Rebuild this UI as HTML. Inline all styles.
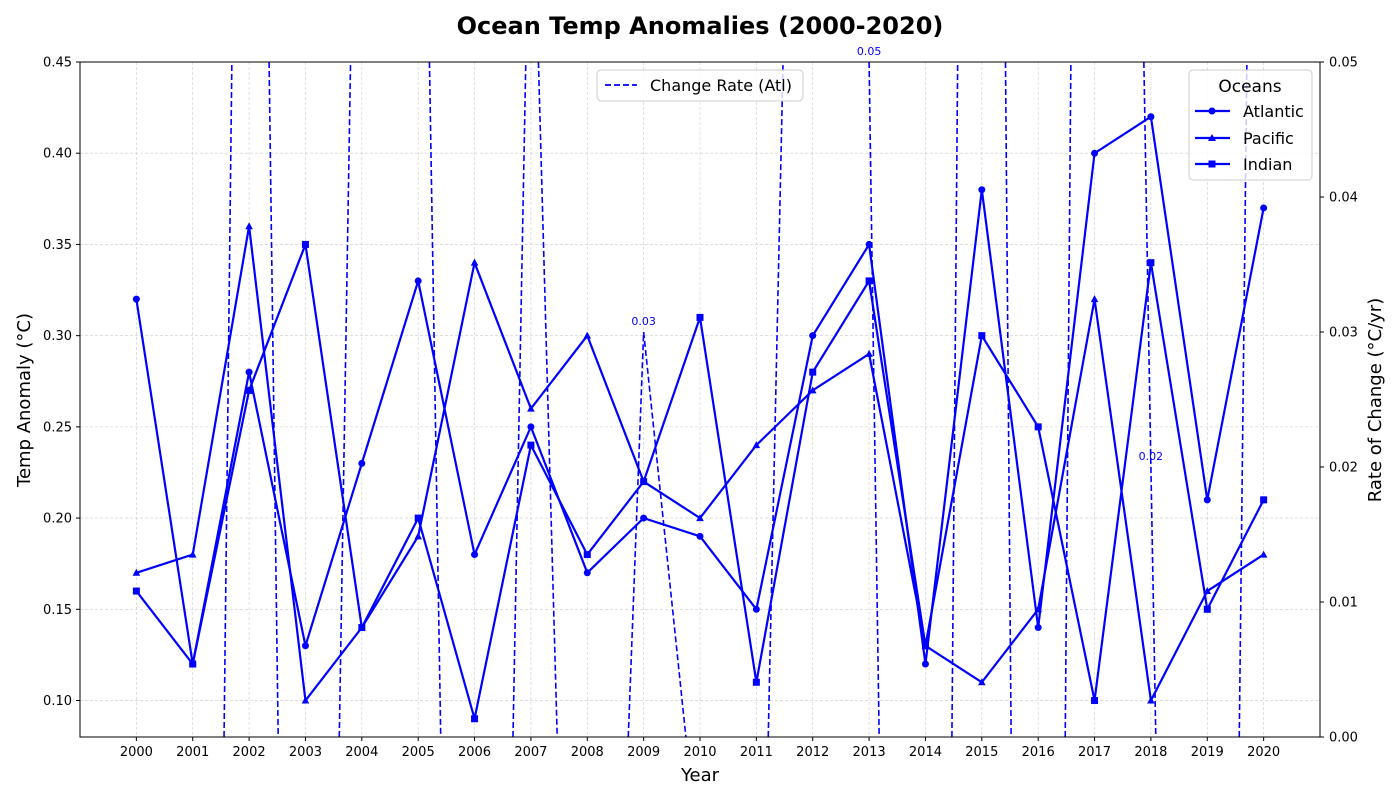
<!DOCTYPE html>
<html><head><meta charset="utf-8"><style>
html,body{margin:0;padding:0;background:#fff;width:1400px;height:800px;overflow:hidden;}
svg{display:block;}
svg text{font-family:"DejaVu Sans","Liberation Sans",sans-serif;}
</style></head><body>
<svg id="chart" width="1400" height="800" xmlns="http://www.w3.org/2000/svg">
<defs><clipPath id="plotclip"><rect x="80" y="62" width="1240" height="675"/></clipPath></defs>
<text x="700" y="34" text-anchor="middle" font-size="24" font-weight="bold">Ocean Temp Anomalies (2000-2020)</text>
<g id="grid"></g>
<g id="axes"></g>
<g id="series" clip-path="url(#plotclip)"></g>
<g id="annots"></g>
<rect x="80" y="62" width="1240" height="675" fill="none" stroke="#000" stroke-width="1"/>
<text x="700" y="781" text-anchor="middle" font-size="18">Year</text>
<text transform="translate(30,400) rotate(-90)" text-anchor="middle" font-size="18">Temp Anomaly (°C)</text>
<text transform="translate(1381,400) rotate(-90)" text-anchor="middle" font-size="18">Rate of Change (°C/yr)</text>
<g>
<rect x="597" y="70" width="206" height="31" rx="4" fill="#fff" fill-opacity="0.8" stroke="#ccc"/>
<line x1="605" y1="85" x2="637" y2="85" stroke="#0000ff" stroke-width="1.8" stroke-dasharray="6,3"/>
<text x="650" y="91" font-size="16">Change Rate (Atl)</text>
</g>
<g>
<rect x="1189" y="70" width="123" height="110" rx="4" fill="#fff" fill-opacity="0.8" stroke="#ccc"/>
<text x="1250" y="92" text-anchor="middle" font-size="17">Oceans</text>
<line x1="1195" y1="111" x2="1230" y2="111" stroke="#0000ff" stroke-width="2.2"/><circle cx="1212" cy="111" r="3.5" fill="#0000ff"/>
<text x="1243" y="117" font-size="16">Atlantic</text>
<line x1="1195" y1="138" x2="1230" y2="138" stroke="#0000ff" stroke-width="2.2"/><polygon points="1212,134 1216,141 1208,141" fill="#0000ff"/>
<text x="1243" y="144" font-size="16">Pacific</text>
<line x1="1195" y1="164" x2="1230" y2="164" stroke="#0000ff" stroke-width="2.2"/><rect x="1208.5" y="160.5" width="7" height="7" fill="#0000ff"/>
<text x="1243" y="170" font-size="16">Indian</text>
</g>
</svg>
<script>
const years=[2000,2001,2002,2003,2004,2005,2006,2007,2008,2009,2010,2011,2012,2013,2014,2015,2016,2017,2018,2019,2020];
const atlantic=[0.32,0.12,0.28,0.13,0.23,0.33,0.18,0.25,0.17,0.20,0.19,0.15,0.30,0.35,0.12,0.38,0.14,0.40,0.42,0.21,0.37];
const pacific=[0.17,0.18,0.36,0.10,0.14,0.19,0.34,0.26,0.30,0.22,0.20,0.24,0.27,0.29,0.13,0.11,0.15,0.32,0.10,0.16,0.18];
const indian=[0.16,0.12,0.27,0.35,0.14,0.20,0.09,0.24,0.18,0.22,0.31,0.11,0.28,0.33,0.13,0.30,0.25,0.10,0.34,0.15,0.21];
const yTicks=[0.10,0.15,0.20,0.25,0.30,0.35,0.40,0.45];
const y2Ticks=[0,0.01,0.02,0.03,0.04,0.05];
const NS="http://www.w3.org/2000/svg";
const X=v=>80+(v-1999)*1240/22;
const Y=v=>737-(v-0.08)*675/0.37;
const Y2=v=>737-v*675/0.05;
function mk(t,a,p){const e=document.createElementNS(NS,t);for(const k in a)e.setAttribute(k,a[k]);(p||document.getElementById('chart')).appendChild(e);return e;}
const grid=document.getElementById('grid'),axes=document.getElementById('axes'),ser=document.getElementById('series'),ann=document.getElementById('annots');
years.forEach(y=>{
 const g=mk('line',{x1:X(y),x2:X(y),y1:62,y2:737,stroke:'#ccc','stroke-width':0.6,'stroke-dasharray':'3,2'},grid);
 
 
 mk('line',{x1:X(y),x2:X(y),y1:737,y2:741,stroke:'#000'},axes);
 const t=mk('text',{x:X(y),y:756,'text-anchor':'middle','font-size':13},axes);t.textContent=y;
 
 
});
yTicks.forEach(v=>{
 const g=mk('line',{x1:80,x2:1320,y1:Y(v),y2:Y(v),stroke:'#ccc','stroke-width':0.6,'stroke-dasharray':'3,2'},grid);
 
 
 mk('line',{x1:76,x2:80,y1:Y(v),y2:Y(v),stroke:'#000'},axes);
 const t=mk('text',{x:72,y:Y(v)+4.5,'text-anchor':'end','font-size':13},axes);t.textContent=v.toFixed(2);
 
 
});
y2Ticks.forEach(v=>{
 mk('line',{x1:1320,x2:1324,y1:Y2(v),y2:Y2(v),stroke:'#000'},axes);
 const t=mk('text',{x:1329,y:Y2(v)+4.5,'font-size':13},axes);t.textContent=v.toFixed(2);
 
 
});
const rate=[];for(let i=1;i<atlantic.length;i++)rate.push(+(atlantic[i]-atlantic[i-1]).toFixed(2));
// clip rate segments to [0,0.05] in data space
const LO=0,HI=0.05;
const rg=mk('g',{},ser);


for(let i=0;i<rate.length-1;i++){
 let xa=years[i+1],xb=years[i+2],ya=rate[i],yb=rate[i+1];
 let t0=0,t1=1;const dy=yb-ya;
 if(dy===0){if(ya<LO||ya>HI)continue;}
 else{let ta=(LO-ya)/dy,tb=(HI-ya)/dy;const tmin=Math.min(ta,tb),tmax=Math.max(ta,tb);t0=Math.max(0,tmin);t1=Math.min(1,tmax);if(t0>=t1)continue;}
 const s=mk('line',{x1:X(xa+(xb-xa)*t0),y1:Y2(ya+dy*t0),x2:X(xa+(xb-xa)*t1),y2:Y2(ya+dy*t1),stroke:'#0000ff','stroke-width':1.6,'stroke-dasharray':'6,3'},rg);
 
 
}
rate.forEach((r,i)=>{if(r>=0&&r<=0.05){const t=mk('text',{x:X(years[i+1]),y:Y2(r)-7,'text-anchor':'middle','font-size':11,fill:'#0000ff'},ann);t.textContent=r.toFixed(2);
 
 }});
function series(data,name,marker){
 const l=mk('polyline',{points:data.map((v,i)=>X(years[i])+','+Y(v)).join(' '),fill:'none',stroke:'#0000ff','stroke-width':2.2},ser);
 
 
 data.forEach((v,i)=>{const x=X(years[i]),y=Y(v);let m;
  if(marker==='o')m=mk('circle',{cx:x,cy:y,r:3.5,fill:'#0000ff'},ser);
  else if(marker==='^')m=mk('polygon',{points:`${x},${y-4} ${x+3.8},${y+3} ${x-3.8},${y+3}`,fill:'#0000ff'},ser);
  else m=mk('rect',{x:x-3.5,y:y-3.5,width:7,height:7,fill:'#0000ff'},ser);
  
  });
}
series(atlantic,'atlantic','o');series(pacific,'pacific','^');series(indian,'indian','s');
</script>
</body></html>
